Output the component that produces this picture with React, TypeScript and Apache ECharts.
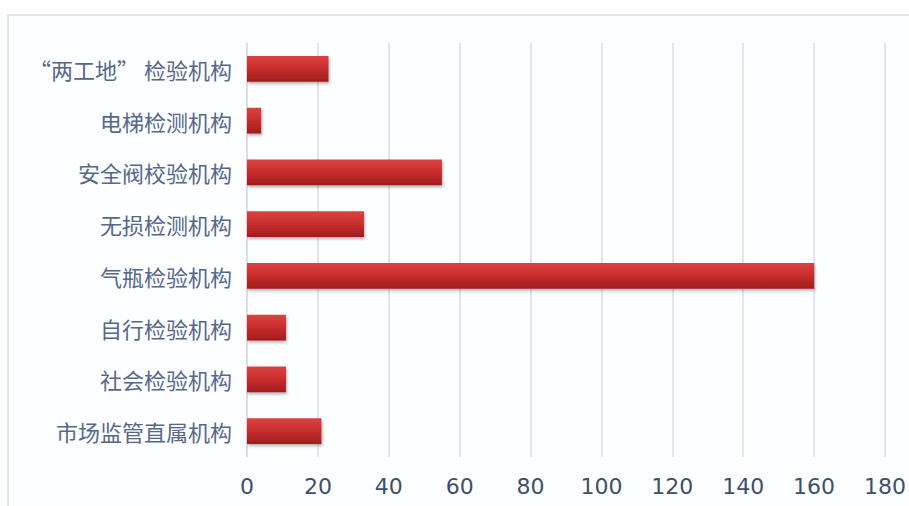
import React, { useEffect, useRef } from "react";
import * as echarts from "echarts";

const categories = [
  "市场监管直属机构",
  "社会检验机构",
  "自行检验机构",
  "气瓶检验机构",
  "无损检测机构",
  "安全阀校验机构",
  "电梯检测机构",
  "“两工地” 检验机构",
];
const values = [21, 11, 11, 160, 33, 55, 4, 23];
const xMin = 0;
const xMax = 180;
const xStep = 20;

export default function App() {
  const ref = useRef<HTMLDivElement>(null);
  useEffect(() => {
    const chart = echarts.init(ref.current!, null, { renderer: "svg" });
    chart.setOption({
      animation: false,
      backgroundColor: "#ffffff",
      graphic: [
        {
          type: "rect",
          shape: { x: 8, y: 15, width: 920, height: 520 },
          style: { fill: "#fdfeff", stroke: "#d9dce9", lineWidth: 1.5 },
          z: -10,
        },
      ],
      grid: { left: 247, right: 23, top: 43, bottom: 49, containLabel: false },
      xAxis: {
        type: "value",
        min: xMin,
        max: xMax,
        interval: xStep,
        axisLine: { show: false },
        axisTick: { show: false },
        splitLine: { show: true, lineStyle: { color: "#d8dde7", width: 1.5 } },
        axisLabel: {
          margin: 18,
          fontFamily: "DejaVu Sans",
          fontSize: 22,
          color: "#3f4f6b",
        },
      },
      yAxis: {
        type: "category",
        data: categories,
        axisLine: { show: true, lineStyle: { color: "#d8dde7", width: 1.5 } },
        axisTick: { show: false },
        axisLabel: {
          margin: 15,
          fontFamily: "Noto Sans CJK SC",
          fontSize: 22,
          color: "#56678a",
        },
      },
      series: [
        {
          type: "bar",
          data: values,
          barWidth: "50%",
          itemStyle: {
            color: new echarts.graphic.LinearGradient(0, 0, 0, 1, [
              { offset: 0, color: "#dc4242" },
              { offset: 0.45, color: "#c92f2f" },
              { offset: 1, color: "#a11c1c" },
            ]),
            shadowColor: "rgba(0,0,0,0.3)",
            shadowBlur: 3,
            shadowOffsetX: 1,
            shadowOffsetY: 2,
          },
        },
      ],
    });
    return () => chart.dispose();
  }, []);
  return (
    <div
      ref={ref}
      style={{ position: "fixed", left: 0, top: 0, width: 909, height: 506 }}
    />
  );
}
